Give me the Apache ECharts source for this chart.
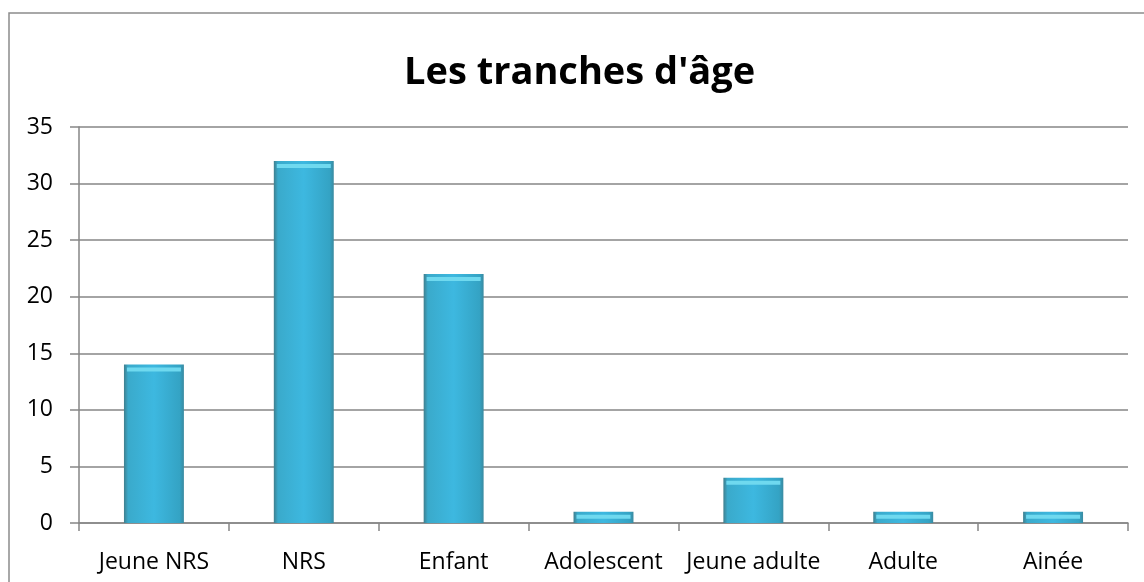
<!DOCTYPE html>
<html>
<head>
<meta charset="utf-8">
<script src="https://cdn.jsdelivr.net/npm/echarts@6/dist/echarts.min.js"></script>
<style>
	html, body { margin: 0; padding: 0; background: #fff; }
	#chart { width: 1144px; height: 582px; }
</style>
</head>
<body>
<div id="chart"></div>
<script>
	// données du graphique
	const categories = ["Jeune NRS", "NRS", "Enfant", "Adolescent", "Jeune adulte", "Adulte", "Ainée"];
	const values = [14, 32, 22, 1, 4, 1, 1];
	const yTicks = { min: 0, max: 35, interval: 5 };

	const chart = echarts.init(document.getElementById("chart"));

	// dégradé horizontal pour imiter le biseau des barres
	const barColor = new echarts.graphic.LinearGradient(0, 0, 1, 0, [
		{ offset: 0, color: "#3f7f8e" },
		{ offset: 0.07, color: "#3aaacb" },
		{ offset: 0.5, color: "#3db8e0" },
		{ offset: 0.93, color: "#34a3c4" },
		{ offset: 1, color: "#3a8aa0" },
	]);

	const option = {
		animation: false,
		title: {
			text: "Les tranches d'âge",
			left: 399,
			top: 49,
			textStyle: {
				fontFamily: "Open Sans",
				fontWeight: "bold",
				fontSize: 38,
				color: "#000",
			},
		},
		graphic: [{
			type: "rect",
			shape: { x: 9, y: 13, width: 1200, height: 600 },
			style: { fill: "none", stroke: "#8c8c8c", lineWidth: 1.5 },
		}],
		grid: { left: 79, right: 16, top: 127, bottom: 59 },
		xAxis: {
			type: "category",
			data: categories,
			axisLine: { lineStyle: { color: "#868686", width: 1.5 } },
			axisTick: { show: true, length: 8, lineStyle: { color: "#868686", width: 1.5 } },
			axisLabel: {
				margin: 28,
				color: "#000",
				fontFamily: "Open Sans",
				fontSize: 23,
				interval: 0,
			},
		},
		yAxis: {
			type: "value",
			min: yTicks.min,
			max: yTicks.max,
			interval: yTicks.interval,
			axisLine: { show: true, lineStyle: { color: "#868686", width: 1.5 } },
			axisTick: { show: true, length: 9, lineStyle: { color: "#868686", width: 1.5 } },
			splitLine: { lineStyle: { color: "#868686", width: 1.5 } },
			axisLabel: {
				margin: 26,
				color: "#000",
				fontFamily: "Open Sans",
				fontSize: 23,
			},
		},
		series: [
			{
				type: "bar",
				data: values,
				barWidth: "40%",
				itemStyle: { color: barColor },
				z: 2,
			},
			{
				// liseré clair en haut de chaque barre
				type: "pictorialBar",
				data: values,
				symbol: "rect",
				symbolSize: [54, 4],
				symbolPosition: "end",
				symbolOffset: [0, 3],
				itemStyle: { color: "#6fd9ef" },
				z: 3,
			},
		],
	};

	chart.setOption(option);
</script>
</body>
</html>
